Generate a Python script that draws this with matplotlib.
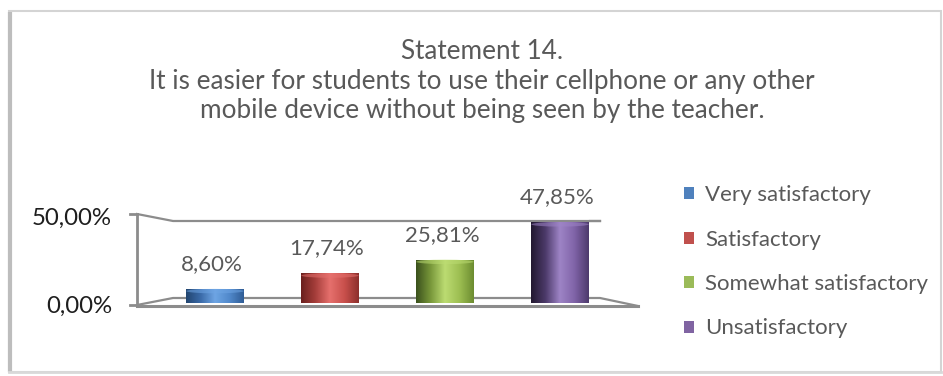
import matplotlib
matplotlib.use("Agg")
import matplotlib.pyplot as plt
import numpy as np
from matplotlib.patches import Rectangle, Ellipse, Patch
from matplotlib.colors import LinearSegmentedColormap

plt.rcParams['font.family'] = ['Lato', 'DejaVu Sans']

categories = ["Very satisfactory", "Satisfactory", "Somewhat satisfactory", "Unsatisfactory"]
values = [8.60, 17.74, 25.81, 47.85]
value_labels = ["8,60%", "17,74%", "25,81%", "47,85%"]
tick_labels = ["50,00%", "0,00%"]
title_lines = ["Statement 14.",
               "It is easier for students to use their cellphone or any other",
               "mobile device without being seen by the teacher."]

legend_colors = ["#4f81bd", "#c0504d", "#9bbb59", "#8064a2"]
# left -> right shading of each cylinder
shades = [
    ["#22456f", "#3a6aa8", "#6ea5e4", "#5189cb", "#2f5c95"],
    ["#6a201e", "#a63e3b", "#e6706d", "#c9504c", "#8c2f2c"],
    ["#3a501c", "#78973a", "#bcdc72", "#9dbf52", "#6c8c30"],
    ["#221830", "#4c3a6a", "#9e84c6", "#8064a8", "#4d396c"],
]
text_gray = "#595959"
line_gray = "#8c8c8c"

W, H = 943, 376
fig = plt.figure(figsize=(W / 100, H / 100), dpi=100)

# pixel-space layer for the chart frame, walls and axis labels
bg = fig.add_axes([0, 0, 1, 1], zorder=0)
bg.set_xlim(0, W)
bg.set_ylim(H, 0)
bg.axis("off")

# outer chart border with a soft shadow on the left edge
bg.add_patch(Rectangle((9, 11), 932, 361, fill=False, ec="#d4d4d4", lw=1.5))
bg.plot([9.5, 9.5], [12, 372], color="#bdbdbd", lw=3, solid_capstyle="butt")
bg.plot([9, 941], [372, 372], color="#d9d9d9", lw=2)

# 3-D wall and floor outline
fx, bx, rbx, rfx = 137, 173, 600, 638
bg.plot([fx, fx], [214, 305], color=line_gray, lw=2)
bg.plot([130, fx], [214, 214], color=line_gray, lw=2)
bg.plot([130, fx], [305, 305], color=line_gray, lw=2)
bg.plot([fx, bx, rbx], [214, 221, 221], color=line_gray, lw=1.6)
bg.plot([590, rbx], [221, 221], color=line_gray, lw=1.6)
bg.plot([fx, bx, rbx, rfx], [305, 298, 298, 306], color=line_gray, lw=1.6)
bg.plot([fx, rfx], [305.5, 305.5], color=line_gray, lw=2.2)

bg.text(112, 218, tick_labels[0], ha="right", va="center", fontsize=17.3, color="#1e1e1e")
bg.text(112, 306, tick_labels[1], ha="right", va="center", fontsize=17.3, color="#1e1e1e")

fig.text(482 / W, 1 - 81 / H, "\n".join(title_lines), ha="center", va="center",
         fontsize=18.8, color=text_gray, linespacing=1.22)

# data layer: bar centres 115 px apart, 1.7 px per percent
ax = fig.add_axes([100 / W, 1 - 330 / H, 560 / W, 150 / H], zorder=1)
ax.patch.set_alpha(0)
ax.axis("off")
x = np.arange(len(values))
ax.set_xlim((100 - 215) / 115, (660 - 215) / 115)
ax.set_ylim((303.5 - 330) / 1.7, (303.5 - 180) / 1.7)

bars = ax.bar(x, values, width=0.5, color="none", edgecolor="none")
cap_h = 2.6
for bar, cols, val, lab in zip(bars, shades, values, value_labels):
    x0, w = bar.get_x(), bar.get_width()
    cmap = LinearSegmentedColormap.from_list("cyl", cols)
    grad = np.linspace(0, 1, 256).reshape(1, -1)
    im = ax.imshow(grad, cmap=cmap, aspect="auto", extent=(x0, x0 + w, 0, val),
                   origin="lower", zorder=2, interpolation="bilinear")
    im.set_clip_path(bar)
    top = Ellipse((x0 + w / 2, val - cap_h / 2), w, cap_h, color=cols[2], alpha=0.55, zorder=3, lw=0)
    ax.add_patch(top)
    ax.annotate(lab, (x0 + w / 2, val), xytext=(-3, 25), textcoords="offset pixels",
                ha="center", va="center", fontsize=16, color=text_gray)

handles = [Patch(facecolor=c, edgecolor="none") for c in legend_colors]
fig.legend(handles, categories, loc="upper left", bbox_to_anchor=(673 / W, 1 - 174 / H),
           frameon=False, fontsize=16, labelcolor=text_gray, handlelength=0.45,
           handleheight=0.45, handletextpad=0.5, labelspacing=1.1, borderpad=0)

fig.savefig("out.png", dpi=100)
